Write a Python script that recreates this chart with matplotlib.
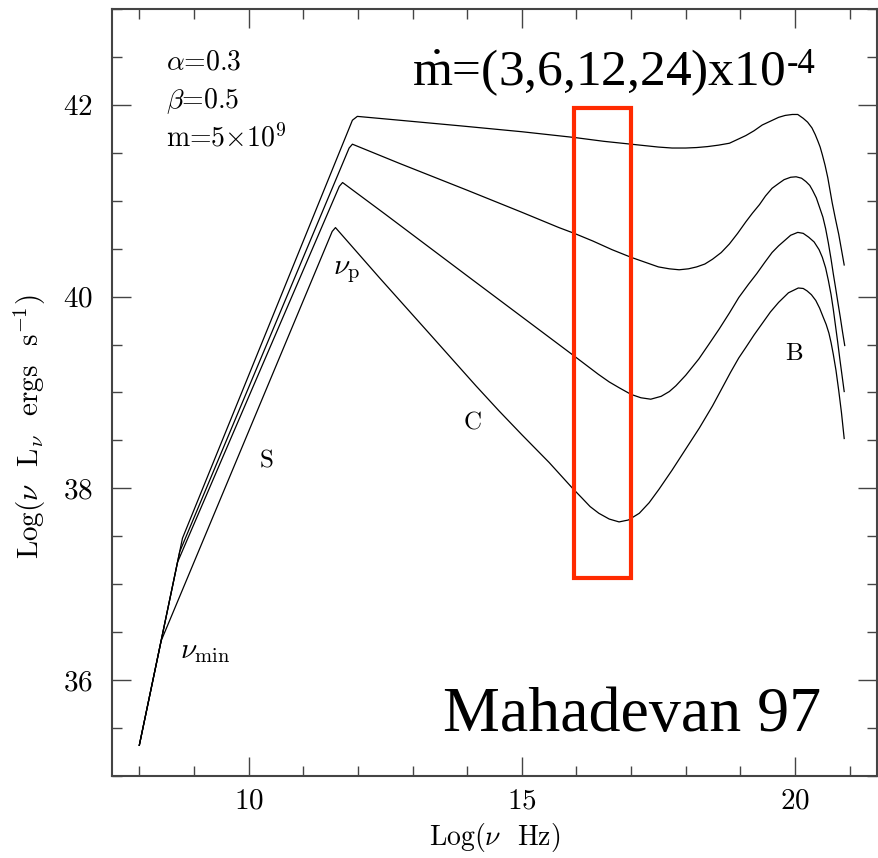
import matplotlib
matplotlib.use("Agg")
import matplotlib.pyplot as plt
from matplotlib.ticker import MultipleLocator, FixedLocator
from matplotlib.patches import Rectangle

plt.rcParams['font.family'] = 'cmr10'
plt.rcParams['mathtext.fontset'] = 'cm'
plt.rcParams['mathtext.rm'] = 'Liberation Serif'
plt.rcParams['mathtext.it'] = 'Liberation Serif:italic'
plt.rcParams['mathtext.bf'] = 'Liberation Serif:bold'
plt.rcParams['axes.formatter.use_mathtext'] = True

# ---- data: log(nu) vs log(nu L_nu), mdot = 24, 12, 6, 3 (x1e-4)
x1 = [8.0, 8.79, 11.90, 11.99, 12.76, 13.9, 15.0, 15.96, 16.5, 17.0, 17.25, 17.5, 17.75, 18.0,
      18.2, 18.4, 18.6, 18.8, 18.95, 19.1, 19.25, 19.4, 19.55, 19.7, 19.82, 19.95, 20.05, 20.15,
      20.23, 20.31, 20.37, 20.42, 20.46, 20.50, 20.55, 20.60, 20.64, 20.68, 20.74, 20.80, 20.85, 20.90]
y1 = [35.32, 37.48, 41.84, 41.88, 41.84, 41.78, 41.72, 41.66, 41.62, 41.59, 41.575, 41.56, 41.55, 41.55,
      41.555, 41.565, 41.58, 41.60, 41.64, 41.68, 41.73, 41.79, 41.83, 41.87, 41.89, 41.90, 41.90, 41.86,
      41.82, 41.76, 41.69, 41.62, 41.56, 41.48, 41.37, 41.24, 41.11, 40.98, 40.81, 40.65, 40.49, 40.33]

x2 = [8.0, 8.74, 11.84, 11.90, 12.76, 14.0, 15.0, 15.68, 15.96, 16.3, 16.65, 17.0, 17.25, 17.5, 17.7,
      17.88, 18.05, 18.2, 18.35, 18.49, 18.65, 18.8, 18.95, 19.1, 19.22, 19.35, 19.46, 19.58, 19.7,
      19.8, 19.92, 20.02, 20.12, 20.2, 20.27, 20.32, 20.39, 20.45, 20.51, 20.56, 20.61, 20.66, 20.70,
      20.74, 20.79, 20.83, 20.87, 20.91]
y2 = [35.32, 37.34, 41.55, 41.59, 41.39, 41.11, 40.88, 40.72, 40.66, 40.58, 40.49, 40.41, 40.36, 40.31, 40.29,
      40.28, 40.29, 40.31, 40.34, 40.39, 40.46, 40.55, 40.66, 40.78, 40.87, 40.96, 41.05, 41.13, 41.18,
      41.22, 41.245, 41.25, 41.235, 41.20, 41.16, 41.11, 41.03, 40.93, 40.83, 40.71, 40.56, 40.39, 40.24,
      40.10, 39.92, 39.78, 39.63, 39.49]

x3 = [8.0, 8.70, 11.66, 11.72, 12.5, 14.04, 15.0, 15.96, 16.4, 16.6, 16.78, 17.0, 17.18, 17.36, 17.55,
      17.7, 17.82, 18.0, 18.24, 18.42, 18.61, 18.8, 18.97, 19.15, 19.3, 19.45, 19.58, 19.7, 19.8,
      19.92, 20.05, 20.15, 20.25, 20.35, 20.44, 20.50, 20.56, 20.61, 20.66, 20.70, 20.74, 20.78,
      20.82, 20.86, 20.90]
y3 = [35.32, 37.23, 41.15, 41.19, 40.86, 40.20, 39.79, 39.38, 39.19, 39.11, 39.05, 38.98, 38.945, 38.93, 38.96,
      39.01, 39.07, 39.18, 39.35, 39.50, 39.66, 39.83, 39.99, 40.13, 40.24, 40.36, 40.46, 40.53, 40.58,
      40.64, 40.67, 40.66, 40.62, 40.57, 40.49, 40.41, 40.30, 40.17, 40.02, 39.87, 39.70, 39.53,
      39.35, 39.18, 39.01]

x4 = [8.0, 8.40, 11.53, 11.59, 12.39, 13.3, 14.16, 14.58, 15.0, 15.5, 15.93, 16.1, 16.25, 16.41, 16.6,
      16.78, 16.95, 17.15, 17.33, 17.51, 17.75, 18.0, 18.25, 18.49, 18.66, 18.82, 18.97, 19.1, 19.25,
      19.4, 19.55, 19.7, 19.88, 20.06, 20.15, 20.22, 20.30, 20.38, 20.45, 20.52, 20.57, 20.62, 20.66,
      20.70, 20.75, 20.80, 20.85, 20.90]
y4 = [35.32, 36.41, 40.68, 40.72, 40.20, 39.62, 39.07, 38.81, 38.56, 38.27, 38.0, 37.90, 37.81, 37.74, 37.68,
      37.65, 37.67, 37.74, 37.85, 37.99, 38.19, 38.41, 38.63, 38.86, 39.04, 39.21, 39.36, 39.47, 39.60,
      39.72, 39.84, 39.94, 40.04, 40.09, 40.085, 40.06, 40.02, 39.96, 39.88, 39.78, 39.71, 39.62, 39.52,
      39.40, 39.23, 39.02, 38.79, 38.52]

curves = [(x1, y1), (x2, y2), (x3, y3), (x4, y4)]

# highlighted band
box_x = [15.96, 17.0]
box_y = [37.07, 41.97]

fig = plt.figure(figsize=(8.79, 8.58), dpi=100)
ax = fig.add_axes([0.1274, 0.0956, 0.8703, 0.8939])

for xs, ys in curves:
    ax.plot(xs, ys, color='black', lw=0.9)

ax.add_patch(Rectangle((box_x[0], box_y[0]), box_x[1] - box_x[0], box_y[1] - box_y[0],
                       fill=False, edgecolor='#ff2a00', lw=3.0, zorder=5))

ax.set_xlim(7.5, 21.5)
ax.set_ylim(35, 43)
ax.xaxis.set_major_locator(FixedLocator([10, 15, 20]))
ax.xaxis.set_minor_locator(MultipleLocator(1))
ax.yaxis.set_major_locator(FixedLocator([36, 38, 40, 42]))
ax.yaxis.set_minor_locator(MultipleLocator(0.5))
ax.tick_params(which='both', direction='in', top=True, right=True, color='#444444', width=1.0)
ax.tick_params(which='major', length=14, labelsize=21)
ax.tick_params(axis='x', which='major', pad=9)
ax.tick_params(axis='y', which='major', pad=14)
ax.tick_params(which='minor', length=7)
for s in ax.spines.values():
    s.set_color('#444444')
    s.set_linewidth(1.5)

ax.text(0.5, -0.08, r'Log($\nu$  Hz)', transform=ax.transAxes, fontsize=20,
        ha='center', va='center')
ax.text(-0.107, 0.455, r'Log($\nu$  L$_\nu$  ergs  s$^{-1}$)', transform=ax.transAxes,
        rotation=90, fontsize=21, ha='center', va='center')

ax.text(8.49, 42.44, r'$\alpha$=0.3', fontsize=20, va='center')
ax.text(8.49, 42.04, r'$\beta$=0.5', fontsize=20, va='center')
ax.text(8.49, 41.65, r'm=5$\times$10$^9$', fontsize=20, va='center')

ax.text(8.74, 36.29, r'$\nu_{\rm min}$', fontsize=21, va='center')
ax.text(11.55, 40.26, r'$\nu_{\rm p}$', fontsize=21, va='center')
ax.text(10.32, 38.28, 'S', fontsize=18, ha='center', va='center')
ax.text(14.10, 38.68, 'C', fontsize=18, ha='center', va='center')
ax.text(19.98, 39.40, 'B', fontsize=18, ha='center', va='center')

t = ax.text(12.99, 42.21, r'$\dot{\rm m}$=(3,6,12,24)x10', fontsize=37,
            family='Liberation Serif', math_fontfamily='custom', va='baseline')
ax.annotate('-4', xy=(1.0, 1.0), xycoords=t, xytext=(1, -1), textcoords='offset points',
            fontsize=25, family='Liberation Serif', ha='left', va='top')
ax.text(20.47, 35.47, 'Mahadevan 97', fontsize=46, family='Liberation Serif',
        ha='right', va='baseline')

fig.savefig('out.png', dpi=100)
